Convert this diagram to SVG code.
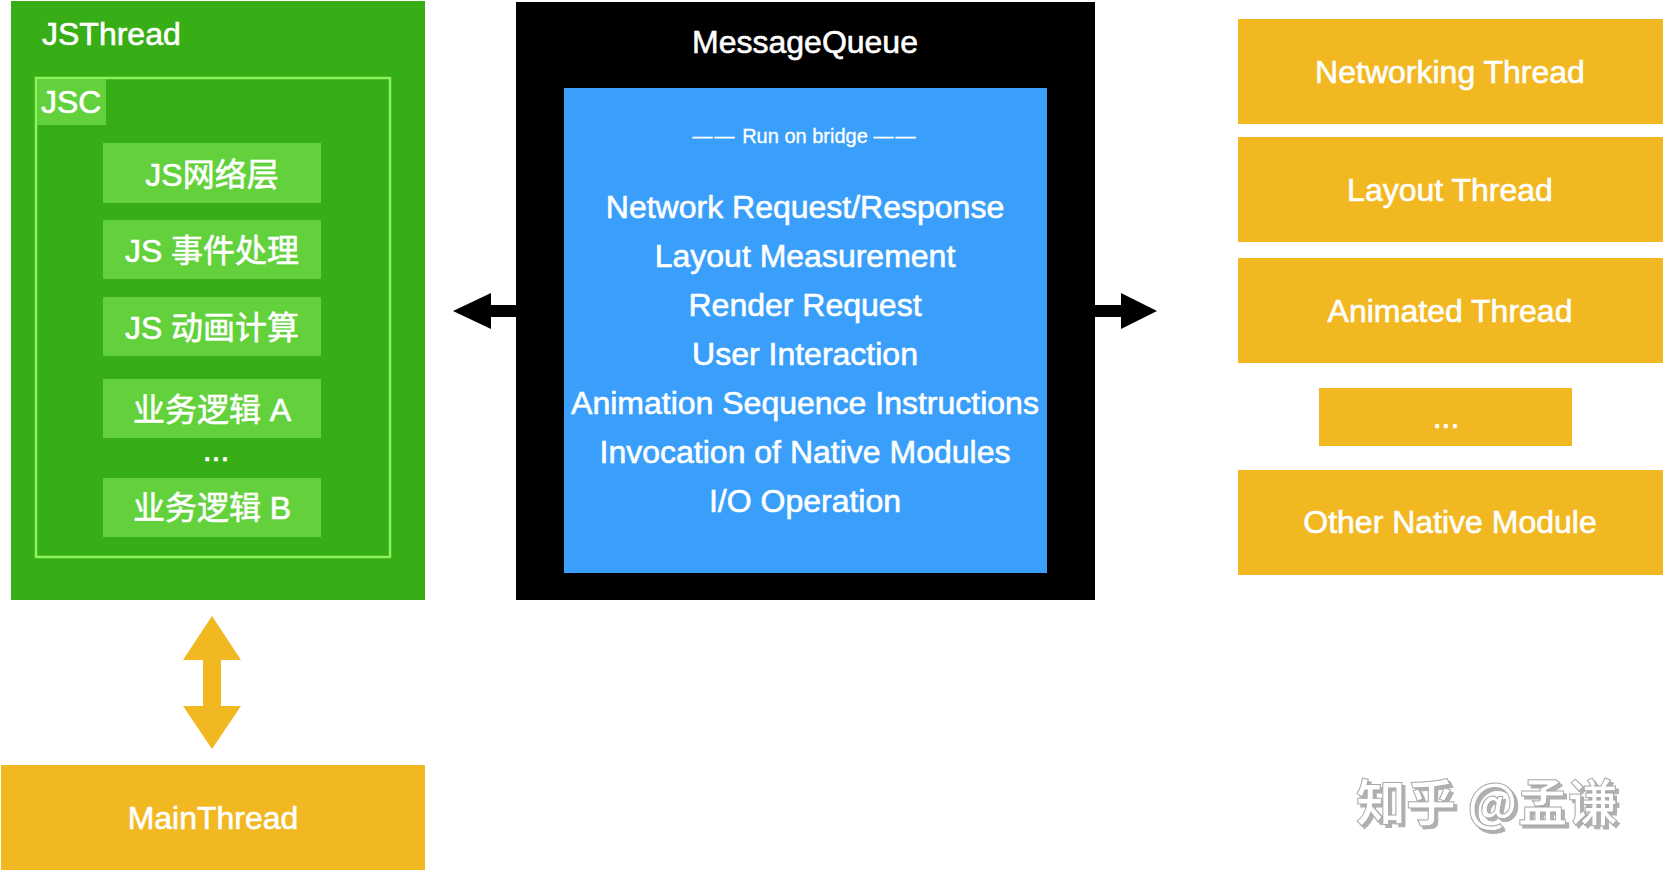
<svg xmlns="http://www.w3.org/2000/svg" width="1663" height="872" viewBox="0 0 1663 872">
<defs>
<style>
.t{font-family:"Liberation Sans","Noto Sans CJK SC",sans-serif;fill:#fff;stroke:#fff;stroke-width:0.6px;}
.c{text-anchor:middle;}
.f32{font-size:32px;}
.green{fill:#38AE16;}
.lg{fill:#63D13C;}
.yel{fill:#F2B822;}
.blue{fill:#3A9FFB;}
.arrow{fill:#000;}
.arrowY{fill:#F2B822;}
</style>
<filter id="emb" x="-10%" y="-20%" width="130%" height="160%">
<feDropShadow dx="3" dy="3" stdDeviation="0.6" flood-color="#b0b0b0" flood-opacity="1"/>
</filter>
</defs>
<rect width="1663" height="872" fill="#fff"/>

<g id="jsthread">
<rect class="green" x="11" y="1" width="414" height="599"/>
<text class="t f32" x="42" y="45">JSThread</text>
</g>

<g id="jsc">
<rect x="36" y="78" width="354" height="479" fill="none" stroke="#8CF25E" stroke-width="2.5"/>
<rect class="lg" x="37" y="79" width="69" height="46"/>
<text class="t f32" x="41" y="113">JSC</text>
</g>

<g id="js-network">
<rect class="lg" x="103" y="143" width="218" height="60"/>
<text class="t c f32" x="212" y="186">JS网络层</text>
</g>
<g id="js-event">
<rect class="lg" x="103" y="220" width="218" height="59"/>
<text class="t c f32" x="212" y="262">JS 事件处理</text>
</g>
<g id="js-anim">
<rect class="lg" x="103" y="297" width="218" height="59"/>
<text class="t c f32" x="212" y="339">JS 动画计算</text>
</g>
<g id="biz-a">
<rect class="lg" x="103" y="379" width="218" height="59"/>
<text class="t c f32" x="212" y="421">业务逻辑 A</text>
</g>
<g id="jsc-dots">
<text class="t c f32" x="216" y="461">...</text>
</g>
<g id="biz-b">
<rect class="lg" x="103" y="478" width="218" height="59"/>
<text class="t c f32" x="212" y="519">业务逻辑 B</text>
</g>

<g id="mainthread">
<rect class="yel" x="1" y="765" width="424" height="105"/>
<text class="t c f32" x="213" y="829">MainThread</text>
</g>

<g id="messagequeue">
<rect x="516" y="2" width="579" height="598" fill="#000"/>
<text class="t c f32" x="805" y="53">MessageQueue</text>
</g>

<g id="bridge">
<rect class="blue" x="564" y="88" width="483" height="485"/>
<text class="t c" x="805" y="143" font-size="20" style="stroke-width:0.3px"><tspan letter-spacing="2">——</tspan> Run on bridge <tspan letter-spacing="2">——</tspan></text>
<text class="t c f32" x="805" y="218">Network Request/Response</text>
<text class="t c f32" x="805" y="267">Layout Measurement</text>
<text class="t c f32" x="805" y="316">Render Request</text>
<text class="t c f32" x="805" y="365">User Interaction</text>
<text class="t c f32" x="805" y="414">Animation Sequence Instructions</text>
<text class="t c f32" x="805" y="463">Invocation of Native Modules</text>
<text class="t c f32" x="805" y="512">I/O Operation</text>
</g>

<g id="networking-thread">
<rect class="yel" x="1238" y="19" width="425" height="105"/>
<text class="t c f32" x="1450" y="83">Networking Thread</text>
</g>
<g id="layout-thread">
<rect class="yel" x="1238" y="137" width="425" height="105"/>
<text class="t c f32" x="1450" y="201">Layout Thread</text>
</g>
<g id="animated-thread">
<rect class="yel" x="1238" y="258" width="425" height="105"/>
<text class="t c f32" x="1450" y="322">Animated Thread</text>
</g>
<g id="more-threads">
<rect class="yel" x="1319" y="388" width="253" height="58"/>
<text class="t c f32" x="1446" y="428">...</text>
</g>
<g id="other-native">
<rect class="yel" x="1238" y="470" width="425" height="105"/>
<text class="t c f32" x="1450" y="533">Other Native Module</text>
</g>

<g id="connectors">
<polygon class="arrow" points="453,311 491,293 491,305 516,305 516,317 491,317 491,329"/>
<polygon class="arrow" points="1095,305 1121,305 1121,293 1157,311 1121,329 1121,317 1095,317"/>
<polygon class="arrowY" points="212,616 241,660 221,660 221,706 241,706 212,749 183,706 203,706 203,660 183,660"/>
</g>

<g id="watermark">
<text x="1356" y="821" font-family="'Noto Sans CJK SC','Liberation Sans',sans-serif" font-size="50" font-weight="bold" fill="#fff" stroke="#a8a8a8" stroke-width="1" filter="url(#emb)">知乎 @孟谦</text>
</g>
</svg>
